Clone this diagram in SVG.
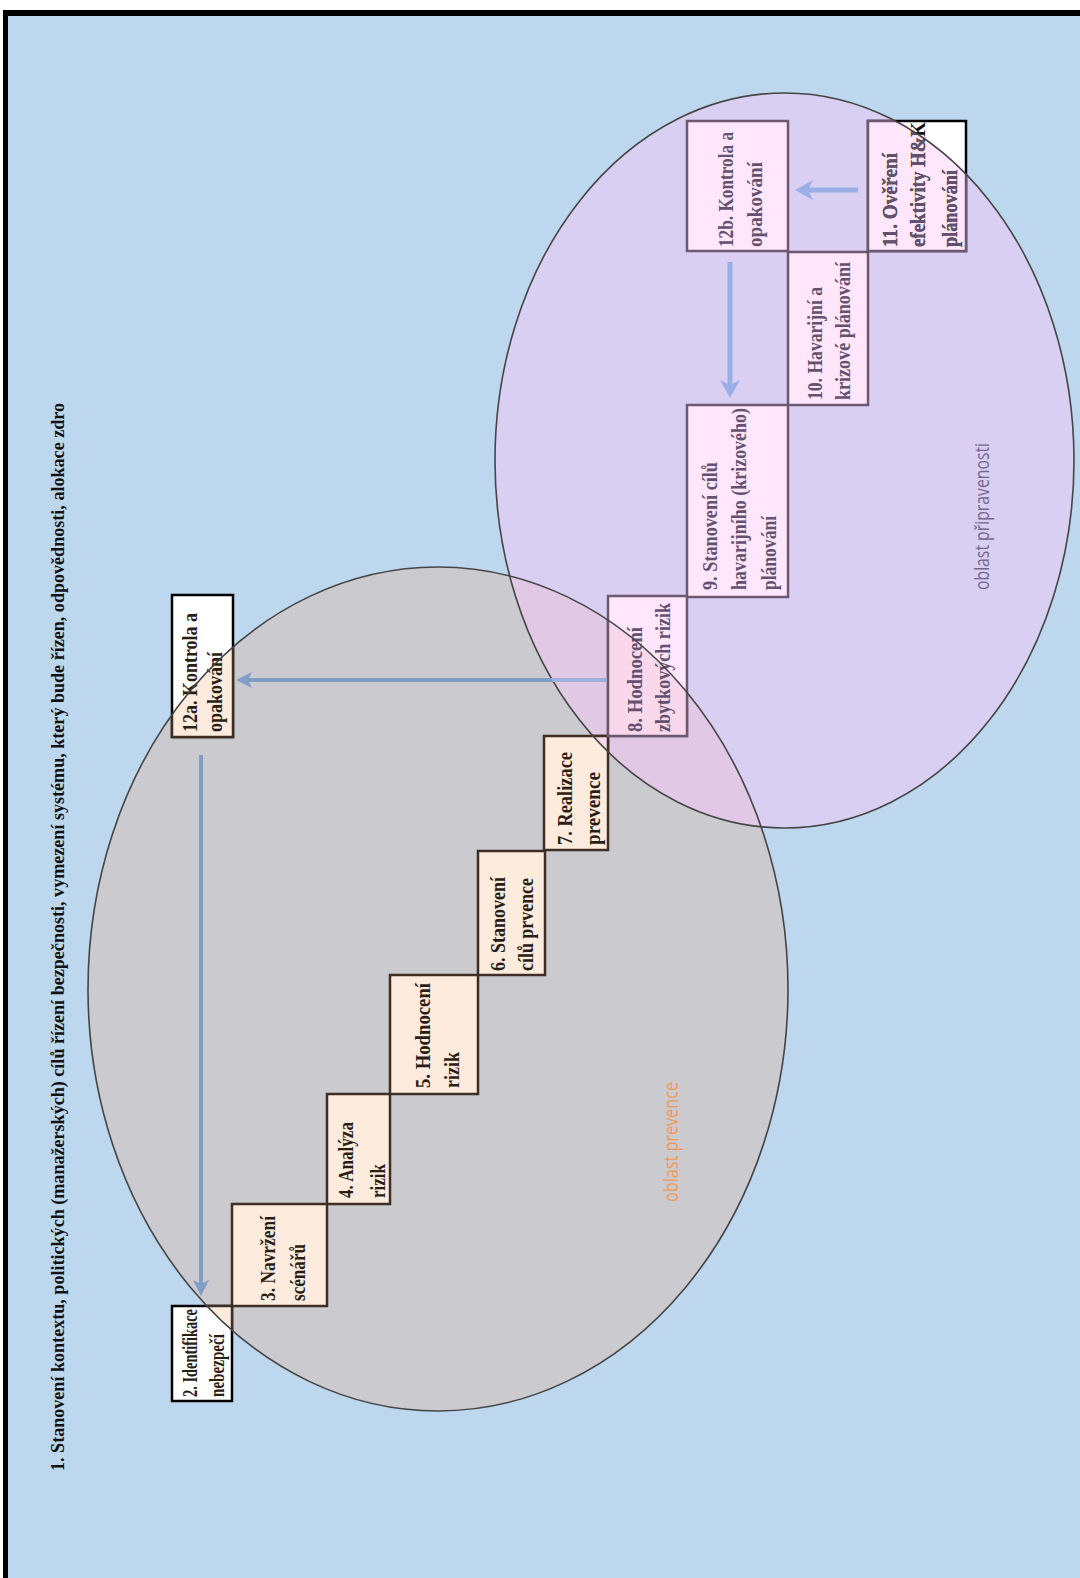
<svg xmlns="http://www.w3.org/2000/svg" width="1080" height="1578" viewBox="0 0 1080 1578">
<style>
.bt{font-family:"Liberation Serif","Times New Roman",serif;font-weight:bold;font-size:22px}
.dk{fill:#2a1d16}
.pu{fill:#63516f}
.pk{fill:#fdebdd;stroke:#3f2e24;stroke-width:2.5}
.pp{fill:#ffe6fb;stroke:#6d5872;stroke-width:2.5}
.wh{fill:#ffffff;stroke:#000000;stroke-width:2.5}
.ov{fill:#f9d8ec;stroke:#6d5872;stroke-width:2.5}
.ov7{fill:#f7d9e8;stroke:#3f2e24;stroke-width:2.5}
.a1{fill:none;stroke:#7f9dc5;stroke-width:4}
.a1l{fill:none;stroke:#9db0da;stroke-width:4}
.a2{fill:none;stroke:#9aafe6;stroke-width:5}
.area{font-family:"Open Sans","Liberation Sans",sans-serif;font-size:20px}
.edge{fill:none;stroke:#454545;stroke-width:1.6}
</style>
<defs>
<clipPath id="cG"><ellipse cx="438" cy="989" rx="350" ry="422"/></clipPath>
<clipPath id="cP"><ellipse cx="784.5" cy="460.5" rx="289.5" ry="367.5"/></clipPath>
<marker id="m1" markerUnits="userSpaceOnUse" markerWidth="18" markerHeight="18" refX="4" refY="8" orient="auto"><path d="M0,0 L16,8 L0,16 L4,8 Z" fill="#7f9dc5"/></marker>
<marker id="m2" markerUnits="userSpaceOnUse" markerWidth="20" markerHeight="22" refX="5" refY="10" orient="auto"><path d="M0,0 L18,10 L0,20 L5,10 Z" fill="#9aafe6"/></marker>
</defs>

<g id="background">
<rect x="0" y="0" width="1080" height="1578" fill="#ffffff"/>
<rect x="5" y="13" width="1075" height="1565" fill="#bdd7ee"/>
<rect x="3" y="10" width="1077" height="6" fill="#000000"/>
<rect x="3" y="10" width="5" height="1568" fill="#000000"/>
</g>

<g id="areas">
<ellipse id="area-prevence" cx="438" cy="989" rx="350" ry="422" fill="#cacacf"/>
<ellipse id="area-pripravenost" cx="784.5" cy="460.5" rx="289.5" ry="367.5" fill="#d9cff3"/>
<ellipse cx="784.5" cy="460.5" rx="289.5" ry="367.5" fill="#e1c8e4" clip-path="url(#cG)"/>
</g>

<g id="title">
<text class="bt" style="font-size:18px" fill="#111111" transform="translate(64,1471) rotate(-90)" textLength="1068" lengthAdjust="spacingAndGlyphs">1. Stanovení kontextu, politických (manažerských) cílů řízení bezpečnosti, vymezení systému, který bude řízen, odpovědnosti, alokace zdro</text>
</g>

<g id="node-2">
<rect class="wh" x="172" y="1306" width="60" height="95"/>
<rect class="pk" x="172" y="1306" width="60" height="95" clip-path="url(#cG)"/>
<text class="bt dk" transform="translate(197,1397) rotate(-90)" textLength="88" lengthAdjust="spacingAndGlyphs">2. Identifikace</text>
<text class="bt dk" transform="translate(224,1397) rotate(-90)" textLength="63" lengthAdjust="spacingAndGlyphs">nebezpečí</text>
</g>

<g id="node-3">
<rect class="pk" x="232" y="1204" width="95" height="102"/>
<text class="bt dk" transform="translate(275,1301) rotate(-90)" textLength="85" lengthAdjust="spacingAndGlyphs">3. Navržení</text>
<text class="bt dk" transform="translate(305,1301) rotate(-90)" textLength="57" lengthAdjust="spacingAndGlyphs">scénářů</text>
</g>

<g id="node-4">
<rect class="pk" x="327" y="1094" width="63" height="110"/>
<text class="bt dk" transform="translate(353,1198) rotate(-90)" textLength="76" lengthAdjust="spacingAndGlyphs">4. Analýza</text>
<text class="bt dk" transform="translate(385,1198) rotate(-90)" textLength="34" lengthAdjust="spacingAndGlyphs">rizik</text>
</g>

<g id="node-5">
<rect class="pk" x="390" y="975" width="88" height="119"/>
<text class="bt dk" transform="translate(430,1088) rotate(-90)" textLength="105" lengthAdjust="spacingAndGlyphs">5. Hodnocení</text>
<text class="bt dk" transform="translate(459,1088) rotate(-90)" textLength="36" lengthAdjust="spacingAndGlyphs">rizik</text>
</g>

<g id="node-6">
<rect class="pk" x="478" y="851" width="67" height="124"/>
<text class="bt dk" transform="translate(505,971) rotate(-90)" textLength="94" lengthAdjust="spacingAndGlyphs">6. Stanovení</text>
<text class="bt dk" transform="translate(533,971) rotate(-90)" textLength="93" lengthAdjust="spacingAndGlyphs">cílů prvence</text>
</g>

<g id="node-7">
<rect class="pk" x="544" y="736" width="64" height="114"/>
<rect class="ov7" x="544" y="736" width="64" height="114" clip-path="url(#cP)"/>
<text class="bt dk" transform="translate(572,845) rotate(-90)" textLength="93" lengthAdjust="spacingAndGlyphs">7. Realizace</text>
<text class="bt dk" transform="translate(600,845) rotate(-90)" textLength="73" lengthAdjust="spacingAndGlyphs">prevence</text>
</g>

<g id="node-8">
<rect class="pp" x="608" y="596" width="79" height="140"/>
<rect class="ov" x="608" y="596" width="79" height="140" clip-path="url(#cG)"/>
<text class="bt pu" transform="translate(642,732) rotate(-90)" textLength="105" lengthAdjust="spacingAndGlyphs">8. Hodnocení</text>
<text class="bt pu" transform="translate(670,732) rotate(-90)" textLength="129" lengthAdjust="spacingAndGlyphs">zbytkových rizik</text>
</g>

<g id="node-9">
<rect class="pp" x="687" y="405" width="101" height="192"/>
<text class="bt pu" transform="translate(717,590) rotate(-90)" textLength="128" lengthAdjust="spacingAndGlyphs">9. Stanovení cílů</text>
<text class="bt pu" transform="translate(746,590) rotate(-90)" textLength="182" lengthAdjust="spacingAndGlyphs">havarijního (krizového)</text>
<text class="bt pu" transform="translate(776,590) rotate(-90)" textLength="74" lengthAdjust="spacingAndGlyphs">plánování</text>
</g>

<g id="node-10">
<rect class="pp" x="788" y="252" width="80" height="153"/>
<text class="bt pu" transform="translate(822,400) rotate(-90)" textLength="113" lengthAdjust="spacingAndGlyphs">10. Havarijní a</text>
<text class="bt pu" transform="translate(850,400) rotate(-90)" textLength="138" lengthAdjust="spacingAndGlyphs">krizové plánování</text>
</g>

<g id="node-11">
<rect class="wh" x="868" y="121" width="98" height="130"/>
<rect class="pp" x="868" y="121" width="98" height="130" clip-path="url(#cP)"/>
<text class="bt" fill="#111111" transform="translate(897,247) rotate(-90)" textLength="94" lengthAdjust="spacingAndGlyphs">11. Ověření</text>
<text class="bt" fill="#111111" transform="translate(925,247) rotate(-90)" textLength="125" lengthAdjust="spacingAndGlyphs">efektivity H&amp;K</text>
<text class="bt" fill="#111111" transform="translate(957,247) rotate(-90)" textLength="77" lengthAdjust="spacingAndGlyphs">plánování</text>
<g clip-path="url(#cP)">
<text class="bt pu" transform="translate(897,247) rotate(-90)" textLength="94" lengthAdjust="spacingAndGlyphs">11. Ověření</text>
<text class="bt pu" transform="translate(925,247) rotate(-90)" textLength="125" lengthAdjust="spacingAndGlyphs">efektivity H&amp;K</text>
<text class="bt pu" transform="translate(957,247) rotate(-90)" textLength="77" lengthAdjust="spacingAndGlyphs">plánování</text>
</g>
</g>

<g id="node-12b">
<rect class="pp" x="687" y="121" width="101" height="130"/>
<text class="bt pu" transform="translate(733,247) rotate(-90)" textLength="115" lengthAdjust="spacingAndGlyphs">12b. Kontrola a</text>
<text class="bt pu" transform="translate(762,247) rotate(-90)" textLength="85" lengthAdjust="spacingAndGlyphs">opakování</text>
</g>

<g id="node-12a">
<rect class="wh" x="172" y="595" width="61" height="142"/>
<rect class="pk" x="172" y="595" width="61" height="142" clip-path="url(#cG)"/>
<text class="bt dk" transform="translate(197,732) rotate(-90)" textLength="119" lengthAdjust="spacingAndGlyphs">12a. Kontrola a</text>
<text class="bt dk" transform="translate(222,732) rotate(-90)" textLength="80" lengthAdjust="spacingAndGlyphs">opakování</text>
</g>

<g id="area-labels">
<text class="area" fill="#f29a52" transform="translate(678,1202) rotate(-90)" textLength="120" lengthAdjust="spacingAndGlyphs">oblast prevence</text>
<text class="area" fill="#75658f" transform="translate(989,590) rotate(-90)" textLength="147" lengthAdjust="spacingAndGlyphs">oblast připravenosti</text>
</g>

<g id="area-outlines">
<ellipse class="edge" cx="438" cy="989" rx="350" ry="422"/>
<ellipse class="edge" cx="784.5" cy="460.5" rx="289.5" ry="367.5"/>
</g>

<g id="connectors">
<path class="a1" d="M607,680 H248" marker-end="url(#m1)"/>
<path class="a1l" d="M607,680 H248" clip-path="url(#cP)"/>
<path class="a1" d="M201,755 V1284" marker-end="url(#m1)"/>
<path class="a2" d="M730,262 V385" marker-end="url(#m2)"/>
<path class="a2" d="M858,190 H808" marker-end="url(#m2)"/>
</g>
</svg>
